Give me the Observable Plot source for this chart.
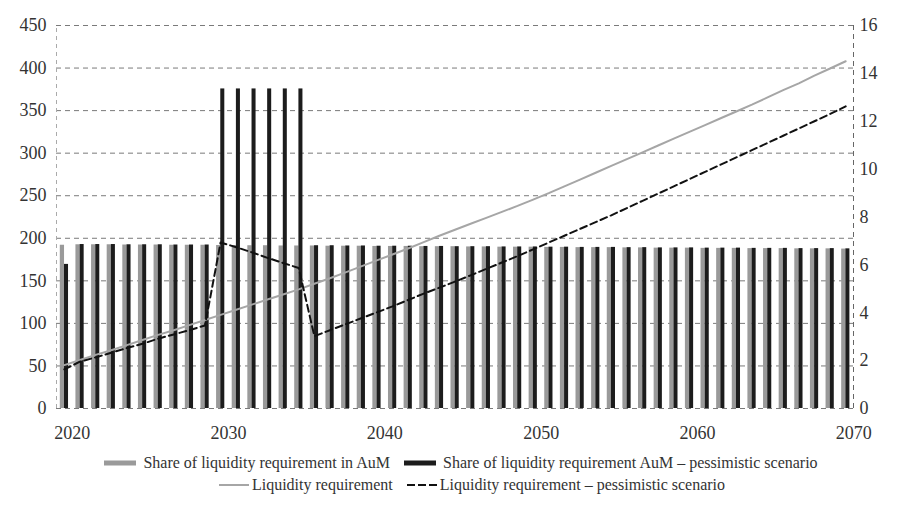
<!DOCTYPE html>
<html><head><meta charset="utf-8">
<script src="https://cdn.jsdelivr.net/npm/d3@7"></script>
<script src="https://cdn.jsdelivr.net/npm/@observablehq/plot@0.6"></script>
<style>
body{margin:0;background:#fff;font-family:"Liberation Serif","Times New Roman",serif;color:#333}
#chart{width:900px;height:506px;position:relative;overflow:hidden}
#chart svg text{font-family:"Liberation Serif","Times New Roman",serif !important}
.legend{width:900px;font-size:16px;color:#333}
.row{display:flex;justify-content:center;align-items:center;height:22px;white-space:nowrap;box-sizing:border-box;width:900px}
.item{display:flex;align-items:center;margin:0 7px}
.item svg.b{margin-right:7px}
.item svg.l{margin-right:3px}
</style></head><body><div id="chart"></div>
<script>
// Categories
const years = d3.range(2020, 2071);
const xTicks = [2020, 2030, 2040, 2050, 2060, 2070];
const leftTicks = [0, 50, 100, 150, 200, 250, 300, 350, 400, 450];
const rightTicks = [0, 2, 4, 6, 8, 10, 12, 14, 16];

// Share of liquidity requirement in AuM (%), right axis
const shareBase = [
  6.82, 6.84, 6.84, 6.84, 6.83, 6.83, 6.83, 6.82, 6.82, 6.82,
  6.81, 6.81, 6.80, 6.80, 6.79, 6.79, 6.79, 6.78, 6.78, 6.78,
  6.77, 6.77, 6.77, 6.76, 6.76, 6.76, 6.75, 6.75, 6.74, 6.74,
  6.74, 6.73, 6.73, 6.72, 6.72, 6.72, 6.71, 6.71, 6.70, 6.70,
  6.70, 6.69, 6.69, 6.69, 6.68, 6.68, 6.68, 6.67, 6.67, 6.67, 6.66
];
// Share of liquidity requirement AuM – pessimistic scenario (%), right axis
const shareStress = [
  6.02, 6.85, 6.85, 6.85, 6.84, 6.84, 6.84, 6.83, 6.83, 6.83,
  13.35, 13.35, 13.35, 13.35, 13.35, 13.35, 6.80, 6.80, 6.79, 6.79,
  6.78, 6.78, 6.78, 6.77, 6.77, 6.76, 6.76, 6.76, 6.75, 6.75,
  6.75, 6.74, 6.74, 6.73, 6.73, 6.73, 6.72, 6.72, 6.71, 6.71,
  6.71, 6.70, 6.70, 6.70, 6.69, 6.69, 6.69, 6.68, 6.68, 6.68, 6.67
];
// Liquidity requirement, left axis
const liquidity = [
  51, 57, 63, 68.5, 74.5, 80.5, 86.5, 92, 98, 104,
  110, 116, 122, 128, 134, 140, 146.5, 153, 160, 167,
  174, 181, 188, 195.5, 203, 210, 217, 224, 231, 238,
  245.5, 253, 261, 269, 277, 285, 293, 301, 309, 317,
  325, 333, 341, 349, 357, 365.5, 374, 382, 391, 399.5, 408
];
// Liquidity requirement – pessimistic scenario, left axis
const liquidityStress = [
  46, 55, 60, 65.5, 71, 76, 82, 87, 92, 97.5,
  195, 189.5, 183.5, 177, 171, 165, 85, 92, 99, 106,
  113, 120, 127.5, 135, 142, 149, 156.5, 164, 171.5, 179,
  187, 195, 203, 211, 219, 227, 235.5, 244, 252.5, 261,
  269.5, 278, 286.5, 295, 303.5, 312, 320.5, 329, 337.5, 346, 355
];

const k = 450 / 16; // right axis -> left axis units
const data = years.map((year, i) => ({
  year, base: shareBase[i], stress: shareStress[i],
  liq: liquidity[i], liqS: liquidityStress[i]
}));

const serif = "Liberation Serif";
const plot = Plot.plot({
  width: 900, height: 450,
  marginLeft: 56, marginRight: 47, marginTop: 25, marginBottom: 42,
  x: {type: "linear", domain: [2019.5, 2070.5], axis: null},
  y: {domain: [0, 450], axis: null},
  style: {fontFamily: "'Liberation Serif','Times New Roman',serif", fontSize: "18px", color: "#333", background: "#fff"},
  marks: [
    Plot.ruleY(leftTicks, {stroke: "#7a7a7a", strokeWidth: 1, strokeDasharray: "5,4"}),
    Plot.ruleX([2019.5], {y1: 0, y2: 450, stroke: "#aaa", strokeWidth: 1, strokeDasharray: "4,4"}),
    Plot.ruleX([2070.5], {y1: 0, y2: 450, stroke: "#666", strokeWidth: 1, strokeDasharray: "5,4"}),
    Plot.rectY(data, {x1: d => d.year - 0.5, x2: d => d.year + 0.5, y: d => d.base * k,
      fill: "#9a9a9a", insetLeft: 3.8, insetRight: 7.6}),
    Plot.rectY(data, {x1: d => d.year - 0.5, x2: d => d.year + 0.5, y: d => d.stress * k,
      fill: "#1c1c1c", insetLeft: 8.0, insetRight: 3.6}),
    Plot.line(data, {x: "year", y: "liq", stroke: "#a6a6a6", strokeWidth: 2}),
    Plot.line(data, {x: "year", y: "liqS", stroke: "#111", strokeWidth: 2, strokeDasharray: "7,4"}),
    Plot.axisY(leftTicks, {anchor: "left", tickSize: 0, tickPadding: 10, label: null, fontSize: 18, fontFamily: serif}),
    Plot.axisY(rightTicks.map(v => v * k), {anchor: "right", tickSize: 0, tickPadding: 6, label: null,
      fontSize: 18, fontFamily: serif, tickFormat: d => String(Math.round(d / k))}),
    Plot.axisX(xTicks, {anchor: "bottom", tickSize: 0, tickPadding: 18, dx: 8, label: null,
      fontSize: 18, fontFamily: serif, tickFormat: d => String(d)})
  ]
});

const chart = document.getElementById("chart");
chart.appendChild(plot);

const legend = document.createElement("div");
legend.className = "legend";
const sw = {
  bar: c => `<svg class="b" width="32" height="8"><rect x="0" y="1.5" width="32" height="5" fill="${c}"/></svg>`,
  line: `<svg class="l" width="30" height="8"><line x1="0" x2="30" y1="4" y2="4" stroke="#a6a6a6" stroke-width="2"/></svg>`,
  dash: `<svg class="l" width="30" height="8"><line x1="0" x2="30" y1="4" y2="4" stroke="#111" stroke-width="2" stroke-dasharray="8,3"/></svg>`
};
legend.innerHTML = `
<div class="row" style="margin-top:2px;padding-left:22px">
  <div class="item">${sw.bar("#9a9a9a")}Share of liquidity requirement in AuM</div>
  <div class="item">${sw.bar("#1c1c1c")}Share of liquidity requirement AuM – pessimistic scenario</div>
</div>
<div class="row" style="padding-left:44px">
  <div class="item">${sw.line}Liquidity requirement</div>
  <div class="item">${sw.dash}Liquidity requirement – pessimistic scenario</div>
</div>`;
chart.appendChild(legend);
</script></body></html>
